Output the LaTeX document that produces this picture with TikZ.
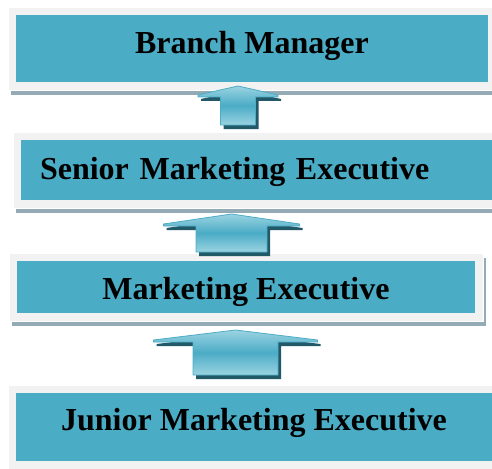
\documentclass[tikz,border=0pt]{standalone}
\usepackage{fontspec}
\setmainfont{Liberation Serif}
\usetikzlibrary{calc,shadows}

\definecolor{boxteal}{HTML}{4BACC6}
\definecolor{framegray}{HTML}{F2F2F2}
\definecolor{shadowgray}{HTML}{94AAB4}
\definecolor{arrowdark}{HTML}{215968}
\definecolor{arrowlight}{HTML}{9BD3E1}

\tikzset{
  rank/.style={fill=framegray, draw=white, line width=0.8pt, inner sep=0pt,
    font=\fontsize{32}{36}\selectfont\bfseries,
    drop shadow={shadow xshift=3pt, shadow yshift=-5pt, fill=shadowgray, opacity=1},
    path picture={\fill[boxteal] ($(path picture bounding box.south west)+(8pt,8pt)$)
      rectangle ($(path picture bounding box.north east)+(-8pt,-8pt)$);}},
  promote/.style={draw=boxteal, line width=0.8pt, top color=arrowlight,
    bottom color=arrowlight, middle color=boxteal,
    drop shadow={shadow xshift=3pt, shadow yshift=-4pt, fill=arrowdark, opacity=1}}
}

% #1 base, #2 tip, #3 half shaft, #4 half head, #5 head height
\newcommand{\rankarrow}[5]{%
  \draw[promote] (#2) -- ($(#2)+(#4,#5-2)$) -- ($(#2)+(#4,#5)$) -- ($(#2)+(#3,#5)$)
    -- ($(#1)+(#3,0)$) -- ($(#1)+(-#3,0)$) -- ($(#2)+(-#3,#5)$)
    -- ($(#2)+(-#4,#5)$) -- ($(#2)+(-#4,#5-2)$) -- cycle;}

\begin{document}
\begin{tikzpicture}[x=1pt, y=-1pt]
    \useasboundingbox (0,0) rectangle (492,468);

    \node[rank, minimum width=488pt, minimum height=83pt, text height=11pt, text depth=0pt] (bm) at (252,48.5) {Branch Manager};
    \node[rank, minimum width=487pt, minimum height=76pt, text height=18pt, text depth=0pt,
      text width=433pt, inner xsep=27pt, align=left] (sme) at (256.5,170) {Senior Marketing Executive};
    \node[rank, minimum width=474pt, minimum height=68pt, text height=24pt, text depth=0pt] (me) at (246,287) {Marketing Executive};
    \node[rank, minimum width=492pt, minimum height=84pt, text height=6pt, text depth=0pt] (jme) at (254,427) {Junior Marketing Executive};

    \coordinate (b1) at (238,125);   \coordinate (t1) at (238,86);
    \coordinate (b2) at (231.5,252); \coordinate (t2) at (231.5,214);
    \coordinate (b3) at (235.5,375); \coordinate (t3) at (235.5,330);

    \rankarrow{b1}{t1}{17.5}{40}{11}
    \rankarrow{b2}{t2}{35.5}{68}{12}
    \rankarrow{b3}{t3}{42.5}{82}{12}
\end{tikzpicture}
\end{document}
